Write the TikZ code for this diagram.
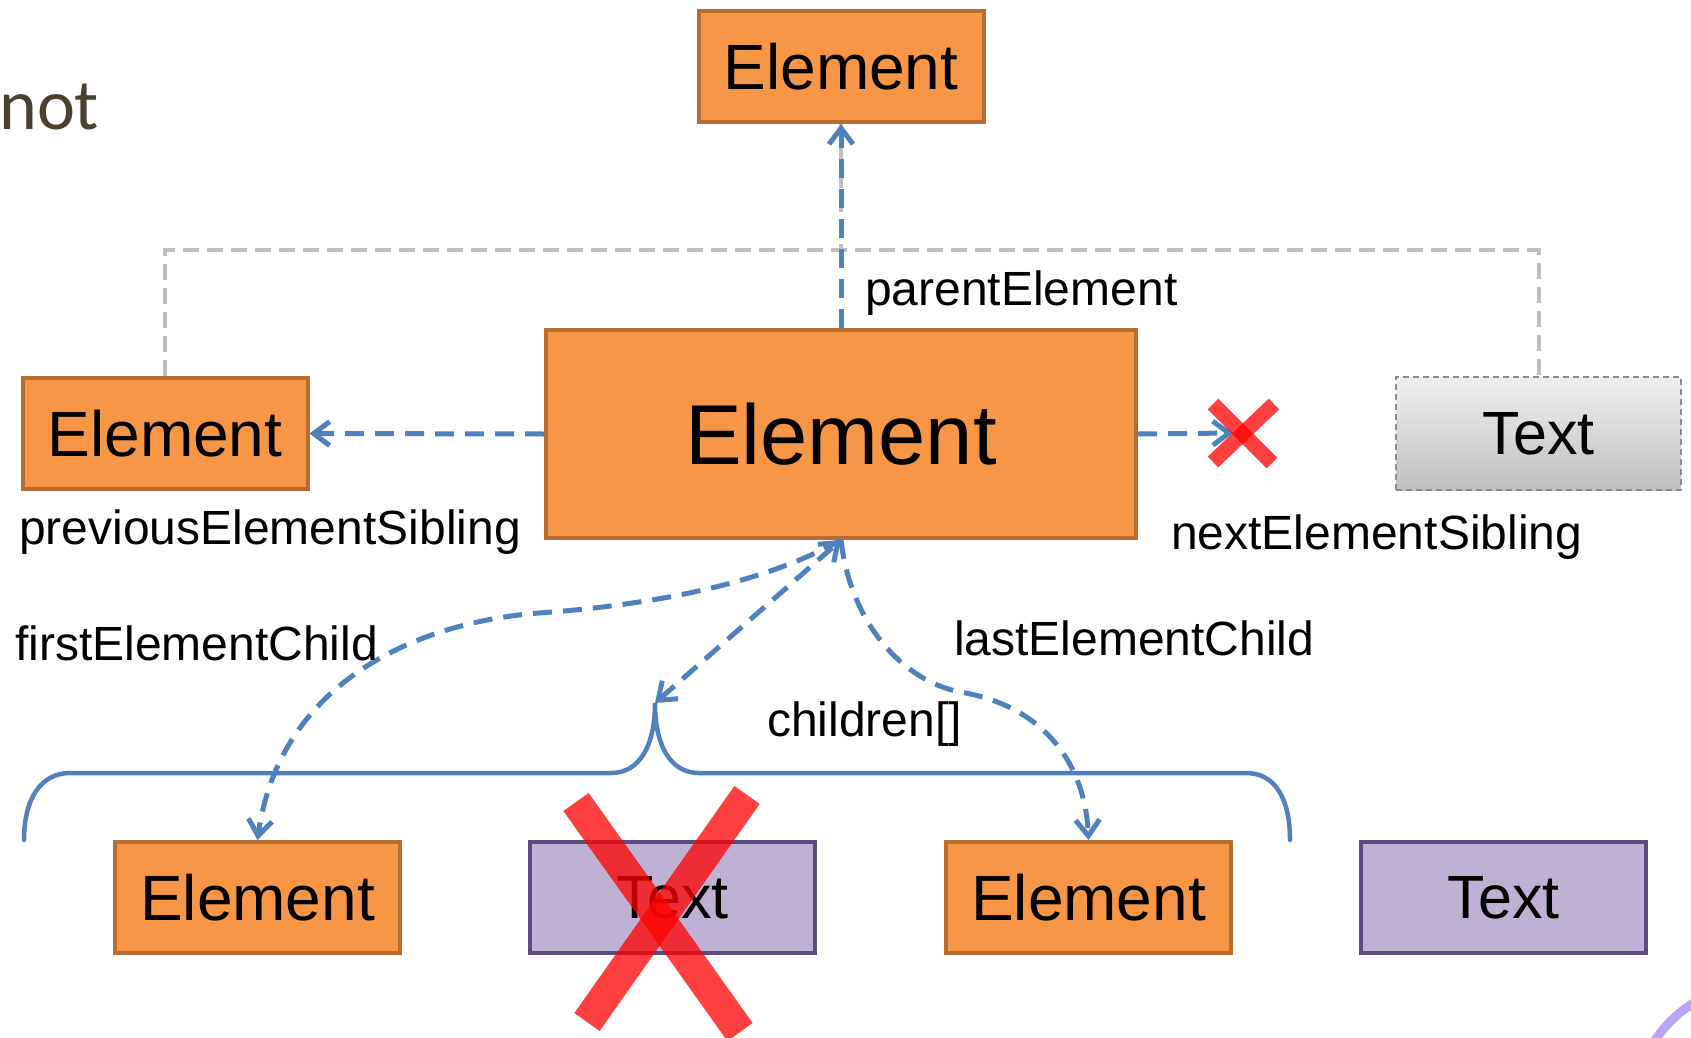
\documentclass[tikz,border=0pt]{standalone}
\usepackage{fontspec}
\setmainfont{Liberation Sans}
\newfontfamily\slidefont{Carlito}
\usetikzlibrary{arrows.meta}

\definecolor{elemfill}{HTML}{F79646}
\definecolor{elemline}{HTML}{B66D31}
\definecolor{textfill}{HTML}{BFB1D3}
\definecolor{textline}{HTML}{5F4A7D}
\definecolor{linkblue}{HTML}{4F81BD}
\definecolor{treegray}{HTML}{BFBFBF}
\definecolor{nodegray}{HTML}{8C8C8C}
\definecolor{slidetext}{HTML}{4A4230}
\definecolor{accent}{HTML}{B9A5F2}

\begin{document}
\begin{tikzpicture}[x=1pt,y=-1pt,
  box/.style={line width=4pt, minimum width=285pt, minimum height=111pt,
    inner sep=0pt, font=\fontsize{64}{64}\selectfont},
  elem/.style={box, draw=elemline, fill=elemfill},
  txt/.style={box, draw=textline, fill=textfill, font=\fontsize{61}{61}\selectfont},
  ghost/.style={box, line width=2pt, draw=nodegray, dash pattern=on 6pt off 4pt,
    top color=gray!12, bottom color=gray!50, minimum width=285pt, minimum height=113pt,
    font=\fontsize{61}{61}\selectfont},
  tree/.style={draw=treegray, line width=4pt, dash pattern=on 16pt off 8pt},
  link/.style={draw=linkblue, line width=5pt, dash pattern=on 19pt off 11pt, -{Straight Barb[length=16pt,width=24pt]}},
  brace/.style={draw=linkblue, line width=4.5pt, line cap=round},
  lbl/.style={font=\fontsize{48}{48}\selectfont, anchor=base west, inner sep=0pt},
  cross/.style={draw=red, opacity=0.75, line cap=butt}]

\useasboundingbox (0,0) rectangle (1691,1038);

% remainder of the slide heading, and the decorative ring in the corner
\node[font=\slidefont\fontsize{72}{72}\selectfont, text=slidetext, anchor=base west, inner sep=0pt]
  (heading) at (-1,130) {not};
\draw[accent, line width=9pt] (1760,1110) circle[radius=126pt];

% the nodes
\node[elem] (parent) at (841,66.5) {Element};
\node[elem, minimum width=590pt, minimum height=208pt, font=\fontsize{85}{85}\selectfont]
  (cur) at (841,434) {Element};
\node[elem] (prev) at (165,433.5) {Element};
\node[ghost] (next) at (1538.5,433.5) {Text};

\node[elem] (c1) at (257.5,897.5) {Element};
\node[txt]  (c2) at (672.5,897.5) {Text};
\node[elem] (c3) at (1088.5,897.5) {Element};
\node[txt]  (c4) at (1503.5,897.5) {Text};

% sibling tree behind the links
\draw[tree] (parent.south) -- (parent.south |- 0,250);
\draw[tree] (prev.north) -- (prev.north |- 0,250) -- (next.north |- 0,250) -- (next.north);

% brace over the element's children
\coordinate (bracetip) at (655,703);
\draw[brace] (24,840) .. controls (24,800) and (40,773) .. (70,773) -- (611,773)
  .. controls (640,773) and (655,745) .. (bracetip)
  .. controls (655,745) and (670,773) .. (699,773) -- (1246,773)
  .. controls (1276,773) and (1290,800) .. (1290,840);

% navigation links
\draw[link] (cur.north) -- (parent.south);
\draw[link] (cur.west) -- (prev.east);
\coordinate (nothing) at (1233,433);
\draw[link] (cur.east) -- (nothing);
\draw[link] (cur.south) .. controls (760,585) and (650,605) .. (539,613)
  .. controls (420,622) and (280,680) .. (c1.north);
\draw[link] (cur.south) .. controls (850,620) and (900,680) .. (960,692)
  .. controls (1040,705) and (1085,760) .. (c3.north);
\draw[link, {Straight Barb[length=16pt,width=24pt]}-{Straight Barb[length=16pt,width=24pt]}]
  (bracetip) -- (cur.south);

% labels
\node[lbl] (lparent) at (865,305) {parentElement};
\node[lbl] (lprev) at (19,544) {previousElementSibling};
\node[lbl] (lnext) at (1171,549) {nextElementSibling};
\node[lbl] (lfirst) at (15,660) {firstElementChild};
\node[lbl] (llast) at (954,655) {lastElementChild};
\node[lbl] (lchildren) at (767,736) {children[]};

% crosses
\draw[cross, line width=15pt] (1213,404) -- (1272,463);
\draw[cross, line width=15pt] (1274,404) -- (1213,462);
\draw[cross, line width=31pt] (576,802) -- (740,1032);
\draw[cross, line width=31pt] (747,795) -- (587,1022);
\end{tikzpicture}
\end{document}
